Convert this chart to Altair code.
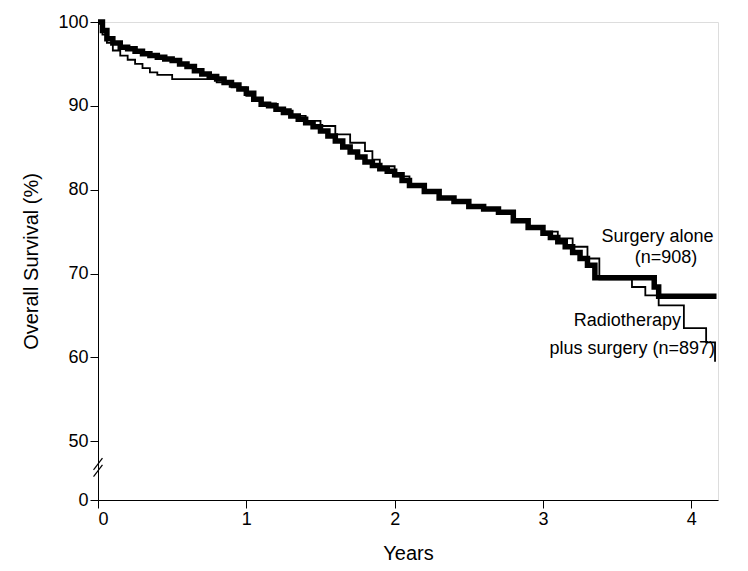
import pandas as pd
import altair as alt

# Surgery alone (bold line)
surg_t = [0, 0.03, 0.06, 0.1, 0.15, 0.2, 0.25, 0.3, 0.35, 0.4, 0.45, 0.5, 0.55, 0.6, 0.65,
          0.7, 0.75, 0.8, 0.85, 0.9, 0.95, 1.0, 1.05, 1.1, 1.15, 1.2, 1.25, 1.3, 1.35,
          1.4, 1.45, 1.5, 1.55, 1.6, 1.65, 1.7, 1.75, 1.8, 1.85, 1.9, 1.95, 2.0, 2.05,
          2.1, 2.2, 2.3, 2.4, 2.5, 2.6, 2.7, 2.8, 2.9, 3.0, 3.05, 3.1, 3.15, 3.2, 3.25,
          3.3, 3.35, 3.72, 3.75, 3.78, 4.17]
surg_s = [100, 99, 98, 97.5, 97.0, 96.8, 96.5, 96.2, 96.0, 95.8, 95.6, 95.4, 95.0, 94.7,
          94.2, 93.8, 93.5, 93.2, 92.8, 92.5, 92.0, 91.5, 90.8, 90.2, 90.0, 89.6, 89.2,
          88.8, 88.4, 88.0, 87.5, 87.0, 86.4, 85.8, 85.1, 84.5, 83.9, 83.3, 82.9, 82.5,
          82.2, 81.8, 81.1, 80.5, 79.8, 79.0, 78.6, 78.0, 77.7, 77.3, 76.3, 75.5, 74.8,
          74.3, 73.8, 73.2, 72.5, 71.8, 71.0, 69.5, 69.5, 68.4, 67.3, 67.3]

# Radiotherapy plus surgery (thin line)
rt_t = [0, 0.03, 0.06, 0.1, 0.15, 0.2, 0.25, 0.3, 0.35, 0.4, 0.5, 0.7, 0.8, 0.9, 1.0,
        1.05, 1.1, 1.2, 1.3, 1.4, 1.5, 1.6, 1.7, 1.8, 1.85, 1.9, 2.0, 2.1, 2.2, 2.3,
        2.4, 2.5, 2.6, 2.7, 2.8, 2.9, 3.0, 3.1, 3.2, 3.3, 3.38, 3.6, 3.69, 3.78, 3.95,
        4.1, 4.16]
rt_s = [100, 98.5, 97.5, 96.6, 96.0, 95.5, 95.0, 94.5, 94.0, 93.7, 93.2, 93.2, 92.8,
        92.2, 91.2, 90.8, 90.3, 89.6, 88.8, 88.2, 87.6, 86.6, 85.6, 84.6, 83.6, 82.8,
        81.6, 80.5, 79.8, 79.0, 78.6, 78.0, 77.7, 77.2, 76.4, 75.6, 75.0, 74.2, 73.2,
        71.8, 69.3, 68.4, 67.4, 66.2, 63.5, 61.8, 59.5]

y_ticks = [43, 50, 60, 70, 80, 90, 100]  # 43 is drawn as "0" (broken axis)

df = pd.concat([
    pd.DataFrame({"t": surg_t, "s": surg_s, "g": "Surgery alone"}),
    pd.DataFrame({"t": rt_t, "s": rt_s, "g": "Radiotherapy plus surgery"}),
])

axis_style = dict(grid=False, tickSize=8, domainColor="black", tickColor="black",
                  labelFontSize=18, titleFontSize=20, labelColor="black",
                  titleColor="black", titleFontWeight="normal", format="d")
x = alt.X("t:Q", title="Years", scale=alt.Scale(domain=[0, 4.18], nice=False),
          axis=alt.Axis(values=[0, 1, 2, 3, 4], titlePadding=15, **axis_style))
y = alt.Y("s:Q", title="Overall Survival (%)", scale=alt.Scale(domain=[43, 100], nice=False),
          axis=alt.Axis(values=y_ticks, titlePadding=16,
                        labelExpr="datum.value == 43 ? '0' : datum.label", **axis_style))

bold = alt.Chart(df[df.g == "Surgery alone"]).mark_line(
    interpolate="step-after", color="black", strokeWidth=5.5
).encode(x=x, y=y)
thin = alt.Chart(df[df.g != "Surgery alone"]).mark_line(
    interpolate="step-after", color="black", strokeWidth=1.8
).encode(x=x, y=y)

brk = pd.DataFrame({"x1": [-0.03, -0.03], "x2": [0.03, 0.03], "y1": [45.8, 46.6], "y2": [47.2, 48.0]})
breaks = alt.Chart(brk).mark_rule(color="black", strokeWidth=1.2).encode(
    x="x1:Q", x2="x2:Q", y="y1:Q", y2="y2:Q")

labels = pd.DataFrame({
    "t": [4.15, 4.04, 3.93, 4.16],
    "s": [74.4, 71.8, 64.3, 61.0],
    "txt": ["Surgery alone", "(n=908)", "Radiotherapy", "plus surgery (n=897)"],
})
text = alt.Chart(labels).mark_text(align="right", fontSize=18, color="black",
                                   font="Liberation Sans").encode(x="t:Q", y="s:Q", text="txt:N")

chart = (thin + bold + breaks + text).properties(
    width=620, height=478, padding={"left": 13, "top": 3, "right": 5, "bottom": 0}
).configure_view(stroke=None).configure(font="Liberation Sans")
chart.save("out.html", embed_options={"renderer": "svg", "actions": False})
